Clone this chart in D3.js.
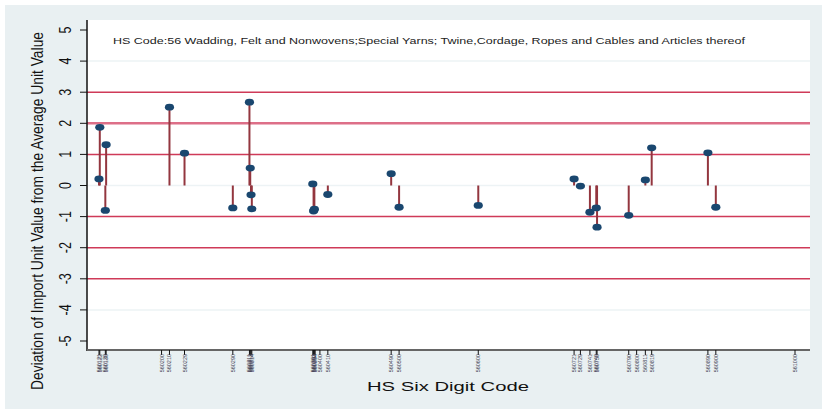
<!DOCTYPE html>
<html><head><meta charset="utf-8">
<script src="https://cdn.jsdelivr.net/npm/d3@7"></script>
<style>body{margin:0;background:#fff;}svg{display:block;font-family:"Liberation Sans",Arial,sans-serif;}</style>
</head><body>
<svg id="chart" width="822" height="409"></svg>
<script>
// ---- data ----
const codes = [560121,560122,560129,560130,560210,560229,560290,560311,560312,560313,560314,
  560391,560392,560393,560410,560490,560500,560600,560721,560729,560741,560749,560750,
  560790,560811,560819,560890,560900];
const deviations = [0.21,1.87,-0.80,1.31,2.52,1.04,-0.72,2.68,0.56,-0.30,-0.75,
  0.05,-0.82,-0.76,-0.29,0.38,-0.70,-0.64,0.21,-0.02,-0.86,-0.72,-1.34,
  -0.96,0.18,1.21,1.05,-0.70];
const xTickCodes = [560121,560122,560129,560130,560200,560210,560229,560290,560311,560312,560313,560314,
  560391,560392,560393,560394,560400,560410,560490,560500,560600,560721,560729,560741,560749,560750,
  560790,560800,560811,560819,560890,560900,561000];
const yTicks = [-5,-4,-3,-2,-1,0,1,2,3,4,5];
const redLines = [-3,-2,-1,1,2,3];
const faintLines = [-4,0,4];
const titleText = "HS Code:56 Wadding, Felt and Nonwovens;Special Yarns; Twine,Cordage, Ropes and Cables and Articles thereof";
const xTitle = "HS Six Digit Code";
const yTitle = "Deviation of Import Unit Value from the Average Unit Value";

const svg = d3.select("#chart");
// outer background
svg.append("rect").attr("x",5).attr("y",5).attr("width",817).attr("height",404).attr("fill","#e9f0f2");
const plot = {left:87, right:810, top:20, bottom:350};
svg.append("rect").attr("x",plot.left).attr("y",plot.top).attr("width",plot.right-plot.left)
  .attr("height",plot.bottom-plot.top).attr("fill","#ffffff");

const x = d3.scaleLinear().domain([560121,561000]).range([99,795]);
const y = d3.scaleLinear().domain([-5,5]).range([341,30]);

// faint grid
svg.append("g").selectAll("line").data(faintLines).join("line")
  .attr("x1",plot.left).attr("x2",plot.right).attr("y1",d=>y(d)).attr("y2",d=>y(d))
  .attr("stroke","#edf3f5").attr("stroke-width",1.5);
// red reference lines
svg.append("g").selectAll("line").data(redLines).join("line")
  .attr("x1",plot.left).attr("x2",plot.right).attr("y1",d=>y(d)).attr("y2",d=>y(d))
  .attr("stroke",d=>d===2?"#dd6f88":"#cf3a58").attr("stroke-width",d=>d===2?2.6:1.5);

// title
svg.append("text").attr("x",113).attr("y",43.5).attr("font-size",8.6).attr("fill","#222")
  .attr("textLength",632).attr("lengthAdjust","spacingAndGlyphs").text(titleText);

const data = codes.map((c,i)=>({code:c, v:deviations[i]}));
// stems
svg.append("g").selectAll("line").data(data).join("line")
  .attr("x1",d=>x(d.code)).attr("x2",d=>x(d.code)).attr("y1",y(0)).attr("y2",d=>y(d.v))
  .attr("stroke","#93363f").attr("stroke-width",2);
// dots
svg.append("g").selectAll("ellipse").data(data).join("ellipse")
  .attr("cx",d=>x(d.code)).attr("cy",d=>y(d.v)).attr("rx",4.6).attr("ry",3.4)
  .attr("fill","#1a476f");

// axes lines
svg.append("line").attr("x1",plot.left).attr("x2",plot.left).attr("y1",plot.top).attr("y2",plot.bottom+1)
  .attr("stroke","#111").attr("stroke-width",1.5);
svg.append("line").attr("x1",plot.left).attr("x2",plot.right).attr("y1",plot.bottom).attr("y2",plot.bottom)
  .attr("stroke","#666").attr("stroke-width",2);

// y ticks
const yt = svg.append("g");
yt.selectAll("line").data(yTicks).join("line")
  .attr("x1",80).attr("x2",plot.left).attr("y1",d=>y(d)).attr("y2",d=>y(d))
  .attr("stroke","#111").attr("stroke-width",1);
yt.selectAll("text").data(yTicks).join("text")
  .attr("transform",d=>`translate(65,${y(d)}) rotate(-90) scale(1,1.25)`)
  .attr("text-anchor","middle").attr("dominant-baseline","central")
  .attr("font-size",12.5).attr("fill","#111").text(d=>d);

// x ticks
const xt = svg.append("g");
xt.selectAll("line").data(xTickCodes).join("line")
  .attr("x1",d=>x(d)).attr("x2",d=>x(d)).attr("y1",plot.bottom).attr("y2",plot.bottom+5)
  .attr("stroke","#111").attr("stroke-width",1);
xt.selectAll("text").data(xTickCodes).join("text")
  .attr("transform",d=>`translate(${x(d)},354) rotate(-90)`)
  .attr("text-anchor","end").attr("dominant-baseline","central")
  .attr("font-size",5.5).attr("fill","#445").text(d=>d);

// axis titles
svg.append("text").attr("x",367).attr("y",391).attr("font-size",13).attr("fill","#111")
  .attr("textLength",162).attr("lengthAdjust","spacingAndGlyphs").text(xTitle);
svg.append("text").attr("transform","translate(37,211) rotate(-90) scale(1,1.22)")
  .attr("text-anchor","middle").attr("dominant-baseline","central")
  .attr("font-size",13.5).attr("fill","#111")
  .attr("textLength",358).attr("lengthAdjust","spacingAndGlyphs").text(yTitle);
</script>
</body></html>
